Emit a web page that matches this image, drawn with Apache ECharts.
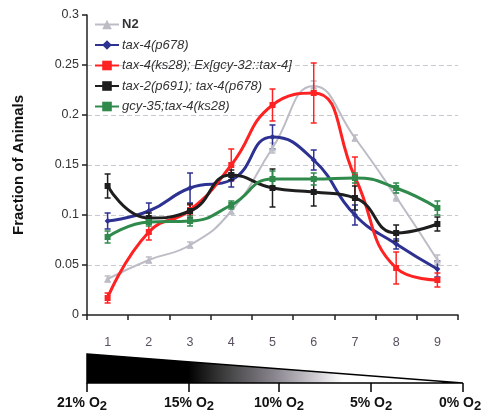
<!DOCTYPE html>
<html><head><meta charset="utf-8">
<script src="https://cdn.jsdelivr.net/npm/echarts@6/dist/echarts.min.js"></script>
<style>html,body{margin:0;padding:0;background:#fff}#c{width:488px;height:416px}</style>
</head><body><div id="c"></div>
<script>
const categories = ['1','2','3','4','5','6','7','8','9'];
const yTicks = [0, 0.05, 0.1, 0.15, 0.2, 0.25, 0.3];
const o2Labels = ['21%', '15%', '10%', '5%', '0%'];

const seriesNames = ['N2', 'tax-4(p678)', 'tax-4(ks28); Ex[gcy-32::tax-4]', 'tax-2(p691); tax-4(p678)', 'gcy-35;tax-4(ks28)'];
const n2 = [0.036, 0.055, 0.070, 0.104, 0.167, 0.229, 0.177, 0.118, 0.055];
const n2Err = [0.003, 0.003, 0.003, 0.003, 0.005, 0.005, 0.003, 0.004, 0.005];
const tax4 = [0.094, 0.104, 0.127, 0.135, 0.178, 0.155, 0.100, 0.071, 0.046];
const tax4Err = [0.008, 0.008, 0.015, 0.007, 0.012, 0.010, 0.010, 0.005, 0.008];
const rescue = [0.017, 0.083, 0.105, 0.150, 0.210, 0.222, 0.138, 0.047, 0.035];
const rescueErr = [0.005, 0.008, 0.005, 0.016, 0.016, 0.030, 0.020, 0.016, 0.007];
const tax2 = [0.129, 0.097, 0.104, 0.140, 0.127, 0.123, 0.117, 0.082, 0.091];
const tax2Err = [0.012, 0.005, 0.007, 0.005, 0.019, 0.014, 0.012, 0.008, 0.007];
const gcy35 = [0.078, 0.093, 0.094, 0.110, 0.136, 0.136, 0.137, 0.127, 0.107];
const gcy35Err = [0.006, 0.004, 0.005, 0.004, 0.008, 0.006, 0.005, 0.005, 0.007];

const colors = ['#bcbcc6', '#2c3192', '#ff2222', '#1e1e1e', '#2f8a4c'];
const symbols = ['triangle', 'diamond', 'rect', 'rect', 'rect'];
const values = [n2, tax4, rescue, tax2, gcy35];
const errs = [n2Err, tax4Err, rescueErr, tax2Err, gcy35Err];

const chart = echarts.init(document.getElementById('c'), null, {renderer: 'canvas'});
const FONT = 'Liberation Sans, Arial, sans-serif';

const lineSeries = values.map((v, i) => ({
  name: seriesNames[i],
  type: 'line',
  data: v,
  smooth: 0.5,
  symbol: symbols[i],
  symbolSize: i === 0 ? 7 : 6,
  lineStyle: {color: colors[i], width: i === 0 ? 2 : 3},
  itemStyle: {color: colors[i]},
  z: 3 + i
}));

const errSeries = values.map((v, i) => ({
  type: 'custom',
  silent: true,
  z: 2 + i,
  data: v.map((m, k) => [k, m, m + errs[i][k], m - errs[i][k]]),
  renderItem: function (params, api) {
    const hi = api.coord([api.value(0), api.value(2)]);
    const lo = api.coord([api.value(0), api.value(3)]);
    const st = {stroke: colors[i], lineWidth: 1.5};
    const w = 3;
    return {type: 'group', children: [
      {type: 'line', shape: {x1: hi[0], y1: hi[1], x2: lo[0], y2: lo[1]}, style: st},
      {type: 'line', shape: {x1: hi[0] - w, y1: hi[1], x2: hi[0] + w, y2: hi[1]}, style: st},
      {type: 'line', shape: {x1: lo[0] - w, y1: lo[1], x2: lo[0] + w, y2: lo[1]}, style: st}
    ]};
  }
}));

// O2 gradient wedge (decoration under the axis)
const wx0 = 87, wx1 = 463, wTop = 354, wBot = 383;
const tickXs = [87, 189, 279, 371, 463];
const graphics = [
  {type: 'polygon', shape: {points: [[wx0, wTop], [wx1, wBot], [wx0, wBot]]},
   style: {fill: new echarts.graphic.LinearGradient(0, 0, 1, 0, [
     {offset: 0, color: '#000'}, {offset: 0.27, color: '#000'},
     {offset: 0.36, color: '#3a3a3a'}, {offset: 0.5, color: '#8a8690'},
     {offset: 0.6, color: '#c9c6cc'}, {offset: 0.68, color: '#fff'}, {offset: 1, color: '#fff'}]),
     stroke: '#000', lineWidth: 1.5}},
];
tickXs.forEach((x, k) => {
  graphics.push({type: 'line', shape: {x1: x, y1: wBot, x2: x, y2: 392}, style: {stroke: '#000', lineWidth: 1.5}});
  graphics.push({type: 'text', x: x + (k === 0 ? -5 : (k === 4 ? -3 : 0)), y: 403,
    style: {text: '{a|' + o2Labels[k] + ' O}{b|2}', align: 'center', verticalAlign: 'middle',
      rich: {a: {fontFamily: FONT, fontWeight: 'bold', fontSize: 14, fill: '#111', lineHeight: 18},
             b: {fontFamily: FONT, fontWeight: 'bold', fontSize: 13, fill: '#111', lineHeight: 18, padding: [6, 0, 0, 0]}}}});
});

chart.setOption({
  animation: false,
  backgroundColor: '#fff',
  grid: {left: 87, right: 30, top: 15, bottom: 101},
  legend: {
    orient: 'vertical', left: 89, top: 13, itemWidth: 24, itemHeight: 12, itemGap: 7.5,
    textStyle: {fontFamily: FONT, fontSize: 13, color: '#333', fontStyle: 'italic', padding: [0, 0, 0, -2]},
    data: seriesNames.map((n, i) => i === 0 ? {name: n, textStyle: {fontStyle: 'normal', fontWeight: 'bold', color: '#333'}} : {name: n})
  },
  xAxis: {
    type: 'category', data: categories, boundaryGap: true,
    axisLine: {lineStyle: {color: '#222', width: 1.5}},
    axisTick: {show: true, length: 5, lineStyle: {color: '#222', width: 1.5}},
    axisLabel: {fontFamily: FONT, fontSize: 12.5, color: '#5a5060', margin: 21}
  },
  yAxis: {
    type: 'value', min: 0, max: 0.3, interval: 0.05,
    name: 'Fraction of Animals', nameLocation: 'middle', nameGap: 61, nameRotate: 90,
    nameTextStyle: {fontFamily: FONT, fontSize: 15, fontWeight: 'bold', color: '#111'},
    axisLine: {show: true, lineStyle: {color: '#222', width: 1.5}},
    axisTick: {show: true, length: 5, lineStyle: {color: '#222', width: 1.5}},
    axisLabel: {fontFamily: FONT, fontSize: 12.5, color: '#333', margin: 8,
      formatter: v => String(+v.toFixed(2))},
    splitLine: {show: true, lineStyle: {type: [5, 3], width: 1,
      color: ['rgba(0,0,0,0)', '#c8c8d0', '#c8c8d0', '#c8c8d0', '#c8c8d0', '#c8c8d0', 'rgba(0,0,0,0)']}}
  },
  series: errSeries.concat(lineSeries),
  graphic: graphics
});
</script></body></html>
